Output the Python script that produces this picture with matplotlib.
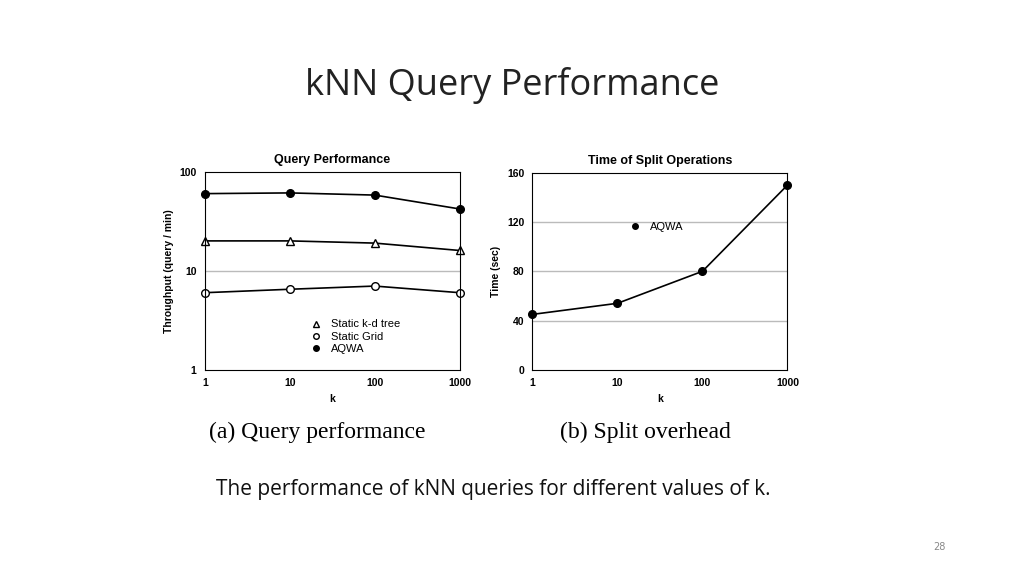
import matplotlib.pyplot as plt

k_values = [1, 10, 100, 1000]
k_labels = ['1', '10', '100', '1000']
aqwa_throughput = [60, 61, 58, 42]
kd_tree_throughput = [20, 20, 19, 16]
grid_throughput = [6.0, 6.5, 7.0, 6.0]
split_time = [45, 54, 80, 150]

fig = plt.figure(figsize=(10.24, 5.76), dpi=100)
fig.text(0.5, 0.852, 'kNN Query Performance', ha='center', va='center', fontsize=26,
         family='Open Sans', color='#222222')

bold = dict(fontsize=7.5, fontweight='bold', family='Liberation Sans')
legend_font = {'family': 'Liberation Sans', 'size': 8}

# (a) query performance
ax1 = fig.add_axes([0.200, 0.358, 0.249, 0.344])
ax1.plot(k_values, aqwa_throughput, '-o', color='black', ms=5.5, lw=1.2, clip_on=False)
ax1.plot(k_values, kd_tree_throughput, '-^', color='black', mfc='white', ms=5.5, lw=1.2, clip_on=False)
ax1.plot(k_values, grid_throughput, '-o', color='black', mfc='white', ms=5.5, lw=1.2, clip_on=False)
ax1.set_xscale('log')
ax1.set_yscale('log')
ax1.set_xlim(1, 1000)
ax1.set_ylim(1, 100)
ax1.set_xticks(k_values, k_labels, **bold)
ax1.set_yticks([1, 10, 100], ['1', '10', '100'], **bold)
ax1.minorticks_off()
ax1.axhline(10, color='#bbbbbb', lw=1, zorder=0)
ax1.set_xlabel('k', **bold)
ax1.set_ylabel('Throughput (query / min)', **bold)
ax1.set_title('Query Performance', fontsize=9, fontweight='bold', family='Liberation Sans')
ax1.tick_params(length=0, pad=6)
ax1.plot([], [], '^', color='black', mfc='white', ms=4, label='Static k-d tree')
ax1.plot([], [], 'o', color='black', mfc='white', ms=4, label='Static Grid')
ax1.plot([], [], 'o', color='black', ms=4, label='AQWA')
ax1.legend(loc='lower center', bbox_to_anchor=(0.58, 0.03), frameon=False,
           prop=legend_font, handletextpad=0.3, labelspacing=0.2)

# (b) split overhead
ax2 = fig.add_axes([0.520, 0.358, 0.249, 0.342])
ax2.plot(k_values, split_time, '-o', color='black', ms=5.5, lw=1.2, clip_on=False)
ax2.set_xscale('log')
ax2.set_xlim(1, 1000)
ax2.set_ylim(0, 160)
ax2.set_xticks(k_values, k_labels, **bold)
ax2.set_yticks([0, 40, 80, 120, 160], ['0', '40', '80', '120', '160'], **bold)
ax2.minorticks_off()
for y in [40, 80, 120]:
    ax2.axhline(y, color='#bbbbbb', lw=1, zorder=0)
ax2.set_xlabel('k', **bold)
ax2.set_ylabel('Time (sec)', **bold)
ax2.set_title('Time of Split Operations', fontsize=9, fontweight='bold', family='Liberation Sans')
ax2.tick_params(length=0, pad=6)
ax2.plot([], [], 'o', color='black', ms=4, label='AQWA')
ax2.legend(loc='upper left', bbox_to_anchor=(0.32, 0.80), frameon=False,
           prop=legend_font, handletextpad=0.3)

fig.text(0.310, 0.25, '(a) Query performance', ha='center', va='center', fontsize=17,
         family='Liberation Serif')
fig.text(0.630, 0.25, '(b) Split overhead', ha='center', va='center', fontsize=17,
         family='Liberation Serif')
fig.text(0.482, 0.151, 'The performance of kNN queries for different values of k.', ha='center',
         va='center', fontsize=15, family='Open Sans', color='#111111')
fig.text(0.917, 0.046, '28', ha='center', fontsize=7, color='#888888')

fig.savefig('out.png', dpi=100)
